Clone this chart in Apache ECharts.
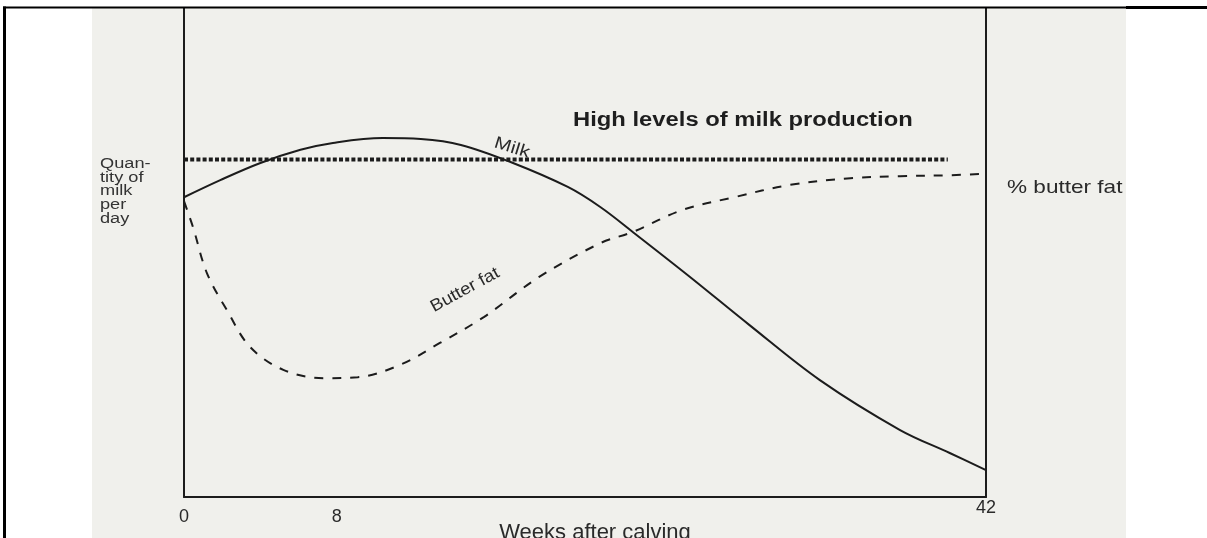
<!DOCTYPE html>
<html><head><meta charset="utf-8">
<script src="https://cdn.jsdelivr.net/npm/echarts@6/dist/echarts.min.js"></script>
<style>html,body{margin:0;padding:0;background:#fff}#c{width:1207px;height:538px}</style>
</head><body><div id="c"></div>
<script>
// Tick labels on the weeks axis
const xTickLabels = [0, 8];
const xEndLabel = [42];

// Milk yield (arbitrary units 0-100)
const milkWeeks  = [0, 1.9, 4.0, 6.1, 7.8, 10.4, 12.4, 14.5, 17.1, 20.1, 21.8, 23.5, 26.5, 29.6, 33.3, 37.5, 40.1, 42];
const milkValues = [61.3, 64.8, 68.3, 71.0, 72.4, 73.4, 73.2, 72.0, 68.5, 63.4, 59.3, 54.2, 45.0, 35.2, 23.9, 13.7, 9.0, 5.5];

// Butter fat percentage (arbitrary units 0-100)
const fatWeeks  = [0, 0.47, 1.2, 2.25, 3.46, 5.2, 7.3, 9.1, 11.3, 13.4, 15.7, 18.6, 21.8, 23.5, 26.1, 28.8, 31.7, 34.9, 37.5, 40.1, 42];
const fatValues = [60.5, 55.2, 45.8, 38.2, 30.7, 26.0, 24.3, 24.5, 27.0, 31.5, 36.8, 45.0, 51.9, 54.2, 58.7, 61.3, 63.8, 65.2, 65.6, 65.8, 66.1];

// High levels of milk production reference line
const highWeeks  = [0, 40];
const highValues = [69, 69];

const zip = (a, b) => a.map((v, i) => [v, b[i]]);
const chart = echarts.init(document.getElementById('c'), null, {renderer: 'canvas'});
const axisLineStyle = {color: '#1c1c1c', width: 2};
const ink = '#2a2a2a';
const ff = 'Liberation Sans';
chart.setOption({
  animation: false,
  grid: {left: 184, right: 221, top: 8, bottom: 41, outerBoundsMode: 'none', containLabel: false},
  xAxis: [
    {
      type: 'value', min: 0, max: 42, position: 'bottom',
      axisLine: {show: true, onZero: false, lineStyle: axisLineStyle},
      axisTick: {show: false}, splitLine: {show: false},
      axisLabel: {customValues: xTickLabels, margin: 11, fontSize: 18, color: ink, fontFamily: ff},
      name: 'Weeks after calving', nameLocation: 'middle', nameGap: 25, nameMoveOverlap: false,
      nameTextStyle: {fontSize: 22, color: ink, fontFamily: ff, padding: [0, 0, 0, 20], verticalAlign: 'top'}
    },
    {
      type: 'value', min: 0, max: 42, position: 'bottom',
      axisLine: {show: false, onZero: false},
      axisTick: {show: false}, splitLine: {show: false},
      axisLabel: {customValues: xEndLabel, margin: 2, fontSize: 18, color: ink, fontFamily: ff}
    }
  ],
  yAxis: [
    {
      type: 'value', min: 0, max: 100, position: 'left',
      axisLine: {show: true, onZero: false, lineStyle: axisLineStyle},
      axisTick: {show: false}, axisLabel: {show: false}, splitLine: {show: false}
    },
    {
      type: 'value', min: 0, max: 100, position: 'right',
      axisLine: {show: true, onZero: false, lineStyle: axisLineStyle},
      axisTick: {show: false}, axisLabel: {show: false}, splitLine: {show: false}
    }
  ],
  series: [
    {
      name: 'High levels', type: 'line', data: zip(highWeeks, highValues),
      showSymbol: false, lineStyle: {color: '#1c1c1c', width: 4, type: [4, 2.2], cap: 'butt'}
    },
    {
      name: 'Milk', type: 'line', data: zip(milkWeeks, milkValues), smooth: 0.35,
      showSymbol: false, lineStyle: {color: '#1c1c1c', width: 2}
    },
    {
      name: 'Butter fat', type: 'line', data: zip(fatWeeks, fatValues), smooth: 0.35,
      showSymbol: false, lineStyle: {color: '#1c1c1c', width: 2, type: [9, 9]}
    }
  ],
  graphic: {
    elements: [
      {type: 'rect', z: -100, silent: true, shape: {x: 92, y: 8, width: 1034, height: 530}, style: {fill: '#f0f0ec'}},
      {type: 'rect', z: 100, silent: true, shape: {x: 3, y: 6.5, width: 1204, height: 2}, style: {fill: '#000'}},
      {type: 'rect', z: 100, silent: true, shape: {x: 1126, y: 6, width: 81, height: 3}, style: {fill: '#000'}},
      {type: 'rect', z: 100, silent: true, shape: {x: 3, y: 6.5, width: 3, height: 532}, style: {fill: '#000'}},
      {type: 'text', z: 50, x: 573, y: 121, scaleX: 1.22, style: {text: 'High levels of milk production', verticalAlign: 'middle',
        font: 'bold 19.5px "Liberation Sans"', fill: '#1e1e1e'}},
      {type: 'text', z: 50, x: 512, y: 148, rotation: -0.3, scaleX: 1.2, style: {text: 'Milk', align: 'center', verticalAlign: 'middle',
        font: '17px "Liberation Sans"', fill: ink}},
      {type: 'text', z: 50, x: 465, y: 290, rotation: 0.5, scaleX: 1.1, style: {text: 'Butter fat', align: 'center', verticalAlign: 'middle',
        font: '17px "Liberation Sans"', fill: ink}},
      {type: 'text', z: 50, x: 1007, y: 188, scaleX: 1.22, style: {text: '% butter fat', verticalAlign: 'middle',
        font: '18.5px "Liberation Sans"', fill: ink}},
      {type: 'text', z: 50, x: 100, y: 157, scaleX: 1.3, style: {text: 'Quan-\ntity of\nmilk\nper\nday', lineHeight: 13.8,
        font: '14px "Liberation Sans"', fill: '#333'}}
    ]
  }
});
</script></body></html>
